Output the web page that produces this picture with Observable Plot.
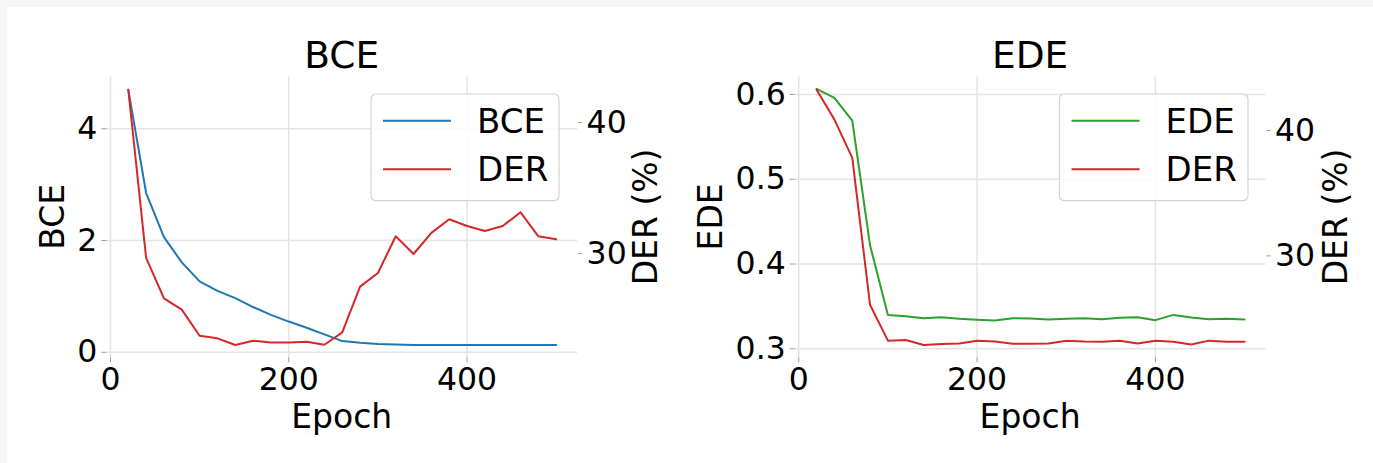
<!DOCTYPE html>
<html><head><meta charset="utf-8">
<script src="https://cdn.jsdelivr.net/npm/d3@7"></script>
<script src="https://cdn.jsdelivr.net/npm/@observablehq/plot@0.6"></script>
<style>
html,body{margin:0;padding:0;background:#f6f6f6;width:1373px;height:463px;overflow:hidden;}
#page{position:absolute;left:7px;top:7px;width:1366px;height:456px;background:#fff;}
.layer{position:absolute;top:0;}
</style></head><body>
<div id="page"></div>
<div id="root"></div>
<script>
// ---- data ----
const epochs = [20,40,60,80,100,120,140,160,180,200,220,240,260,280,300,320,340,360,380,400,420,440,460,480,500];
const bceLoss = [4.70,2.85,2.06,1.61,1.27,1.10,0.97,0.81,0.67,0.55,0.44,0.32,0.20,0.17,0.15,0.14,0.13,0.13,0.13,0.13,0.13,0.13,0.13,0.13,0.13];
const derBce = [42.5,29.67,26.59,25.73,23.74,23.54,23.03,23.36,23.23,23.23,23.28,23.05,24.0,27.48,28.52,31.32,29.97,31.58,32.62,32.11,31.73,32.11,33.15,31.32,31.09];
const edeLoss = [0.6066,0.596,0.5692,0.4218,0.340,0.3385,0.336,0.3373,0.3354,0.3342,0.3334,0.336,0.3357,0.3346,0.3354,0.336,0.335,0.3365,0.3373,0.3338,0.340,0.3369,0.335,0.3354,0.3346];
const derEde = [43.26,40.87,37.82,26.08,23.24,23.29,22.89,22.97,23.02,23.24,23.18,23.0,23.0,23.02,23.24,23.18,23.16,23.24,23.02,23.24,23.16,22.94,23.24,23.16,23.16];
const xTicks = [0,200,400];
const bceTicks = [0,2,4];
const edeTicks = [0.3,0.4,0.5,0.6];
const derTicks = [30,40];
const edeDomain = [0.2894,0.6207];

const C = {bce:"#1f77b4", der:"#d62728", ede:"#2ca02c", grid:"#e4e4e4", tick:"#9a9a9a"};
const FONT = "DejaVu Sans";
const TICK = 31.5;

function pad(vals){ const lo=d3.min(vals), hi=d3.max(vals), r=hi-lo; return [lo-0.05*r, hi+0.05*r]; }
const xDomain = pad(epochs);

function panel({left, width, mL, mR, values, color, yDomain, yTicks, yFmt, der}){
  const H = 463, mT = 76.4, mB = 463-357.3;
  const rows = epochs.map((e,i)=>({epoch:e, v:values[i]}));
  const rowsDer = epochs.map((e,i)=>({epoch:e, v:der[i]}));
  const common = {width, height:H, marginLeft:mL, marginRight:mR, marginTop:mT, marginBottom:mB,
    style:{fontFamily:FONT, fontSize:TICK+"px", background:"transparent", overflow:"visible"}};
  const base = Plot.plot({...common,
    x:{domain:xDomain},
    y:{domain:yDomain},
    marks:[
      Plot.gridX(xTicks,{stroke:C.grid, strokeOpacity:1, strokeWidth:1.5}),
      Plot.gridY(yTicks,{stroke:C.grid, strokeOpacity:1, strokeWidth:1.5}),
      Plot.axisX(xTicks,{tickSize:5, tickPadding:5, stroke:C.tick, fill:"#000", fontSize:TICK, label:null, tickFormat:d=>String(d)}),
      Plot.axisY(yTicks,{anchor:"left", tickSize:5, tickPadding:4.5, stroke:C.tick, fill:"#000", fontSize:TICK, label:null, tickFormat:yFmt}),
      Plot.line(rows,{x:"epoch", y:"v", stroke:color, strokeWidth:2, strokeLinejoin:"round"})
    ]});
  const top = Plot.plot({...common,
    x:{domain:xDomain, axis:null},
    y:{domain:pad(der)},
    marks:[
      Plot.axisY(derTicks,{anchor:"right", tickSize:4, tickPadding:5, stroke:C.tick, fill:"#000", fontSize:TICK, label:null, tickFormat:d=>String(d)}),
      Plot.line(rowsDer,{x:"epoch", y:"v", stroke:C.der, strokeWidth:2, strokeLinejoin:"round"})
    ]});
  for (const s of [base, top]) { s.classList.add("layer"); s.style.left = left+"px"; document.getElementById("root").appendChild(s); }
}

panel({left:0, width:690, mL:106.4, mR:690-577.1, values:bceLoss, color:C.bce, yDomain:pad(bceLoss), yTicks:bceTicks, yFmt:d=>String(d), der:derBce});
panel({left:690, width:683, mL:794.7-690, mR:1373-1265.5, values:edeLoss, color:C.ede, yDomain:edeDomain, yTicks:edeTicks, yFmt:d3.format(".1f"), der:derEde});

// ---- titles, axis labels, legends ----
const svg = d3.select("#root").append("svg").attr("class","layer").style("left","0px")
  .attr("width",1373).attr("height",463).style("font-family",FONT).style("pointer-events","none");
function txt(t, x, y, size, rot){
  const g = svg.append("text").text(t).attr("font-size",size).attr("text-anchor","middle").attr("fill","#000");
  if (rot) g.attr("transform",`translate(${x},${y}) rotate(-90)`); else g.attr("x",x).attr("y",y);
}
txt("BCE",341.7,68.3,37.5); txt("EDE",1030.1,68.3,37.5);
txt("Epoch",341.7,428,33); txt("Epoch",1030.1,428,33);
txt("BCE",64,216.9,33,true); txt("EDE",721.7,216.9,33,true);
txt("DER (%)",656.7,216.9,33,true); txt("DER (%)",1346.7,216.9,33,true);

function legend(x0, x1, items){
  svg.append("rect").attr("x",x0).attr("y",94).attr("width",x1-x0).attr("height",106.7).attr("rx",5)
    .attr("fill","rgba(255,255,255,0.85)").attr("stroke","#d4d4d4").attr("stroke-width",1.2);
  items.forEach((it,i)=>{
    const y = 120.7 + i*48.6;
    svg.append("line").attr("x1",x0+12).attr("x2",x0+80).attr("y1",y).attr("y2",y).attr("stroke",it.color).attr("stroke-width",2);
    svg.append("text").text(it.label).attr("x",x0+106).attr("y",y+11.8).attr("font-size",34).attr("fill","#000");
  });
}
legend(371,559,[{label:"BCE",color:C.bce},{label:"DER",color:C.der}]);
legend(1059.5,1248,[{label:"EDE",color:C.ede},{label:"DER",color:C.der}]);
</script>
</body></html>
